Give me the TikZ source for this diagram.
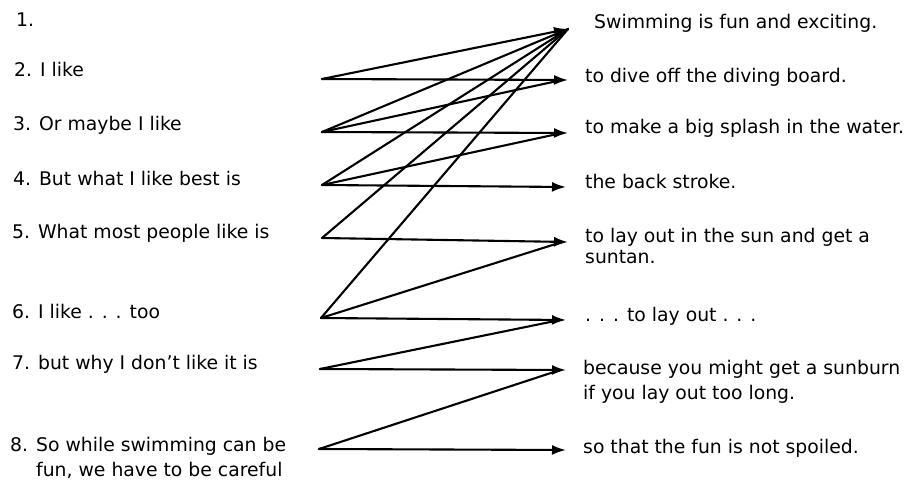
\documentclass[tikz,border=0pt]{standalone}
\usepackage{fontspec}
\setmainfont{DejaVu Sans}
\usetikzlibrary{arrows.meta}
\begin{document}
\begin{tikzpicture}[x=1pt,y=-1pt,
  lab/.style={anchor=base west,inner sep=0pt,font=\fontsize{18.8}{24}\selectfont},
  conn/.style={line width=2.1pt,line cap=round,line join=round},
  arr/.style={conn,-{Latex[length=14pt,width=10pt]}}]
\useasboundingbox[fill=white] (0,0) rectangle (910,481);
% left labels
\node[lab] (l1) at (16,27) {1.};
\node[lab] (l2) at (14,77) {2. I like};
\node[lab] (l3) at (13,131) {3. Or maybe I like};
\node[lab] (l4) at (13,186) {4. But what I like best is};
\node[lab] (l5) at (12,238) {5. What most people like is};
\node[lab] (l6) at (12,318) {6. I like . . . too};
\node[lab] (l7) at (12,369) {7. but why I don't like it is};
\node[lab] (l8a) at (10,451) {8. So while swimming can be};
\node[lab] (l8b) at (36,476) {fun, we have to be careful};
% right texts
\node[lab] (r1) at (594,29) {Swimming is fun and exciting.};
\node[lab] (r2) at (585,83) {to dive off the diving board.};
\node[lab] (r3) at (585,134) {to make a big splash in the water.};
\node[lab] (r4) at (585,189) {the back stroke.};
\node[lab] (r5a) at (585,243) {to lay out in the sun and get a};
\node[lab] (r5b) at (585,263) {suntan.};
\node[lab] (r6) at (585,321) {. . . to lay out . . .};
\node[lab] (r7a) at (583,374) {because you might get a sunburn};
\node[lab] (r7b) at (583,399) {if you lay out too long.};
\node[lab] (r8) at (583,453) {so that the fun is not spoiled.};
% connector ends
\coordinate (s2) at (322,79);
\coordinate (s3) at (322,132);
\coordinate (s4) at (322,185);
\coordinate (s5) at (322,238);
\coordinate (s6) at (321,318);
\coordinate (s7) at (320,369);
\coordinate (s8) at (319,449);
\coordinate (t1) at (568,29);
\coordinate (t2) at (568,80);
\coordinate (t3) at (568,133);
\coordinate (t4) at (566,187);
\coordinate (t5) at (568,242);
\coordinate (t6) at (566,320);
\coordinate (t7) at (566,370);
\coordinate (t8) at (566,450);
% lines to item 1
\draw[arr] (s2) -- (t1);
\draw[conn] (s3) -- (t1);
\draw[conn] (s4) -- (t1);
\draw[conn] (s5) -- (t1);
\draw[conn] (s6) -- (t1);
% horizontal arrows
\draw[arr] (s2) -- (t2);
\draw[arr] (s3) -- (t3);
\draw[arr] (s4) -- (t4);
\draw[arr] (s5) -- (t5);
\draw[arr] (s6) -- (t6);
\draw[arr] (s7) -- (t7);
\draw[arr] (s8) -- (t8);
% rising lines
\draw[conn] (s3) -- ([xshift=-6pt]t2);
\draw[conn] (s4) -- ([xshift=-6pt]t3);
\draw[conn] (s6) -- ([xshift=-6pt]t5);
\draw[conn] (s7) -- ([xshift=-6pt]t6);
\draw[conn] (s8) -- ([xshift=-6pt]t7);
\end{tikzpicture}
\end{document}
